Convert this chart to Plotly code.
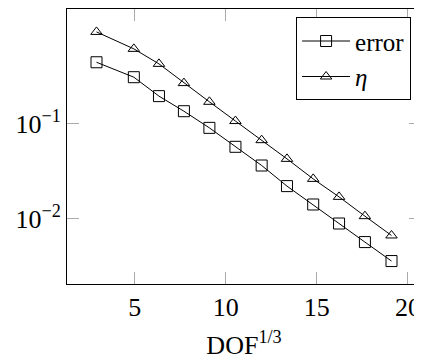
import plotly.graph_objects as go

dof13 = [2.90, 4.95, 6.33, 7.70, 9.10, 10.53, 11.97, 13.36, 14.80, 16.22, 17.64, 19.10]
error = [0.441, 0.307, 0.194, 0.1346, 0.0899, 0.0568, 0.0361, 0.0219, 0.01403, 0.00885, 0.00564, 0.00356]
eta = [0.920, 0.610, 0.424, 0.266, 0.169, 0.106, 0.0667, 0.0424, 0.0261, 0.01687, 0.01057, 0.00662]

x_ticks = [5, 10, 15, 20]
y_ticks = [0.1, 0.01]
y_ticktext = ["10<sup>\u22121</sup>", "10<sup>\u22122</sup>"]

FONT = "Liberation Serif"
FS = 26

fig = go.Figure()
fig.add_trace(go.Scatter(
    x=dof13, y=error, mode="lines+markers", name="error",
    line=dict(color="black", width=1),
    marker=dict(symbol="square-open", size=11, color="black", line=dict(width=1)),
))
fig.add_trace(go.Scatter(
    x=dof13, y=eta, mode="lines+markers", name="<i>\u03b7</i>",
    line=dict(color="black", width=1),
    marker=dict(symbol="triangle-up-open", size=10, color="black", line=dict(width=1)),
))

# page body has an 8px margin: figure is sized/offset to compensate
fig.update_layout(
    width=414, height=352,
    margin=dict(l=59, r=1, t=1, b=76, autoexpand=False),
    paper_bgcolor="white", plot_bgcolor="white",
    font=dict(family=FONT, size=FS, color="black"),
    legend=dict(
        x=0.972, y=0.970, xanchor="right", yanchor="top",
        bgcolor="white", bordercolor="black", borderwidth=1,
        font=dict(family=FONT, size=25, color="black"),
        itemwidth=48, tracegroupgap=0,
    ),
    xaxis=dict(
        range=[1.28, 20.72], tickvals=x_ticks, automargin=False,
        showgrid=False, zeroline=False,
        showline=True, linecolor="black", linewidth=1, mirror="ticks",
        ticks="inside", ticklen=12, tickcolor="#aaaaaa", tickwidth=1,
        title=dict(text="DOF<sup>1/3</sup>", font=dict(family=FONT, size=FS), standoff=14),
    ),
    yaxis=dict(
        type="log", range=[-2.69, 0.205], tickvals=y_ticks, ticktext=y_ticktext,
        automargin=False,
        showgrid=False, zeroline=False,
        showline=True, linecolor="black", linewidth=1, mirror="ticks",
        ticks="inside", ticklen=12, tickcolor="#aaaaaa", tickwidth=1,
    ),
)

fig.write_html("out.html")
